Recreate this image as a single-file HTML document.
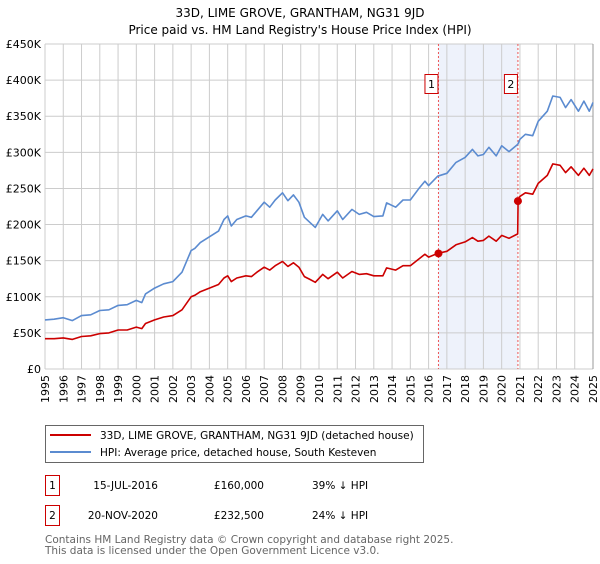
<!DOCTYPE html>
<html><head><meta charset="utf-8"><style>
body{margin:0;background:#fff;font-family:"DejaVu Sans","Liberation Sans",sans-serif}
svg text{font-family:"DejaVu Sans","Liberation Sans",sans-serif}
</style></head><body>
<svg id="chart" width="600" height="560" xmlns="http://www.w3.org/2000/svg">
<text x="300" y="17" text-anchor="middle" font-size="12" fill="#000">33D, LIME GROVE, GRANTHAM, NG31 9JD</text>
<text x="300" y="34" text-anchor="middle" font-size="12" fill="#000">Price paid vs. HM Land Registry's House Price Index (HPI)</text>
<g id="plot"></g>
<g>
<rect x="45.5" y="425.5" width="378" height="37" fill="#fff" stroke="#666"/>
<line x1="50" y1="435" x2="91" y2="435" stroke="#cc0000" stroke-width="2"/>
<text x="100" y="439" font-size="10.5">33D, LIME GROVE, GRANTHAM, NG31 9JD (detached house)</text>
<line x1="50" y1="452" x2="91" y2="452" stroke="#5b8bd0" stroke-width="2"/>
<text x="100" y="456" font-size="10.5">HPI: Average price, detached house, South Kesteven</text>
</g>
<g font-size="10.5">
<rect x="45.5" y="475.5" width="14" height="20" fill="#fff" stroke="#cc0000"/>
<text x="52.5" y="489" text-anchor="middle">1</text>
<text x="158" y="489" text-anchor="end">15-JUL-2016</text>
<text x="264" y="489" text-anchor="end">£160,000</text>
<text x="312" y="489">39% ↓ HPI</text>
<rect x="45.5" y="505.5" width="14" height="20" fill="#fff" stroke="#cc0000"/>
<text x="52.5" y="519" text-anchor="middle">2</text>
<text x="158" y="519" text-anchor="end">20-NOV-2020</text>
<text x="264" y="519" text-anchor="end">£232,500</text>
<text x="312" y="519">24% ↓ HPI</text>
</g>
<text x="45" y="543" font-size="10.5" fill="#666">Contains HM Land Registry data © Crown copyright and database right 2025.</text>
<text x="45" y="554" font-size="10.5" fill="#666">This data is licensed under the Open Government Licence v3.0.</text>
</svg>
<script>
const dates=[1995.0,1995.5,1996.0,1996.5,1997.0,1997.5,1998.0,1998.5,1999.0,1999.5,2000.0,2000.3,2000.5,2001.0,2001.5,2002.0,2002.5,2003.0,2003.2,2003.5,2004.0,2004.5,2004.8,2005.0,2005.2,2005.5,2006.0,2006.3,2006.6,2007.0,2007.3,2007.6,2008.0,2008.3,2008.6,2008.9,2009.2,2009.5,2009.8,2010.2,2010.5,2011.0,2011.3,2011.8,2012.2,2012.6,2013.0,2013.5,2013.7,2014.2,2014.6,2015.0,2015.5,2015.8,2016.0,2016.5,2017.0,2017.5,2018.0,2018.4,2018.7,2019.0,2019.3,2019.7,2020.0,2020.4,2020.88,2020.9,2021.0,2021.3,2021.7,2022.0,2022.5,2022.8,2023.2,2023.5,2023.8,2024.2,2024.5,2024.8,2025.0];
const hpiValues=[68,69,71,67,74,75,81,82,88,89,95,92,104,112,118,121,134,164,167,175,183,191,207,212,198,207,212,210,219,231,224,234,244,233,241,231,210,203,196,214,205,219,207,221,214,217,211,212,230,224,234,234,251,260,254,267,271,286,293,304,295,297,307,295,309,301,311,312,318,325,323,343,357,378,376,362,373,357,371,357,369];
const priceValues=[42,42,43,41,45,46,49,50,54,54,58,56,63,68,72,74,82,100,102,107,112,117,126,129,121,126,129,128,134,141,137,143,149,142,147,141,128,124,120,131,125,134,126,135,131,132,129,129,140,137,143,143,153,159,155,160,163,172,176,182,177,178,184,177,185,181,187,233,239,244,242,257,268,284,282,272,280,268,278,268,277];
const saleDates=[2016.54,2020.89];
const salePrices=[160,232.5];
const saleLabels=["1","2"];
const yTicks=[0,50,100,150,200,250,300,350,400,450];
const yTickLabels=["£0","£50K","£100K","£150K","£200K","£250K","£300K","£350K","£400K","£450K"];
const xYears=[1995,1996,1997,1998,1999,2000,2001,2002,2003,2004,2005,2006,2007,2008,2009,2010,2011,2012,2013,2014,2015,2016,2017,2018,2019,2020,2021,2022,2023,2024,2025];

const NS="http://www.w3.org/2000/svg";
const L=45,R=593,T=44,B=369;
const xs=d=>L+(d-1995)/30*(R-L);
const ys=v=>B-v/450*(B-T);
const g=document.getElementById('plot');
function mk(tag,attrs,parent){const e=document.createElementNS(NS,tag);for(const k in attrs)e.setAttribute(k,attrs[k]);(parent||g).appendChild(e);return e;}
const sh=mk('rect',{x:xs(saleDates[0]),y:T,width:xs(saleDates[1])-xs(saleDates[0]),height:B-T,fill:'#eef2fb'});


yTicks.forEach((v,i)=>{
 const l=mk('line',{x1:L,x2:R,y1:ys(v),y2:ys(v),stroke:'#cccccc','stroke-width':1});
 
 
 const t=mk('text',{x:L-4,y:ys(v)+4,'text-anchor':'end','font-size':11});
 t.textContent=yTickLabels[i];
 
 
});
xYears.forEach(yr=>{
 const l=mk('line',{x1:xs(yr),x2:xs(yr),y1:T,y2:B,stroke:'#cccccc','stroke-width':1});
 
 
 const gg=mk('g',{transform:'translate('+(xs(yr)+4).toFixed(1)+','+(B+6)+')'});
 const t=mk('text',{x:0,y:0,'text-anchor':'end','font-size':11,transform:'rotate(-90)'},gg);
 t.textContent=yr;
 
 
});
mk('line',{x1:R,x2:R,y1:T,y2:B,stroke:'#999','stroke-width':1});
saleDates.forEach((d,i)=>{
 const l=mk('line',{x1:xs(d),x2:xs(d),y1:T,y2:B,stroke:'#ee5555','stroke-width':1,'stroke-dasharray':'2,2'});
 
 
 const r=mk('rect',{x:xs(d)-13.5,y:74.5,width:13,height:19,fill:'#fff',stroke:'#cc0000'});
 
 
 const t=mk('text',{x:xs(d)-7,y:88,'text-anchor':'middle','font-size':11});
 t.textContent=saleLabels[i];
 
 
});
function path(vals,color,name){
 const d=dates.map((x,i)=>(i?'L':'M')+xs(x).toFixed(1)+','+ys(vals[i]).toFixed(1)).join('');
 const p=mk('path',{d:d,fill:'none',stroke:color,'stroke-width':1.6,'stroke-linejoin':'round'});
 
 
}
path(hpiValues,'#5b8bd0','hpi-line');
path(priceValues,'#cc0000','price-paid-line');
saleDates.forEach((d,i)=>{
 const c=mk('circle',{cx:xs(d),cy:ys(salePrices[i]),r:4,fill:'#cc0000'});
 
 
});
</script>
</body></html>
